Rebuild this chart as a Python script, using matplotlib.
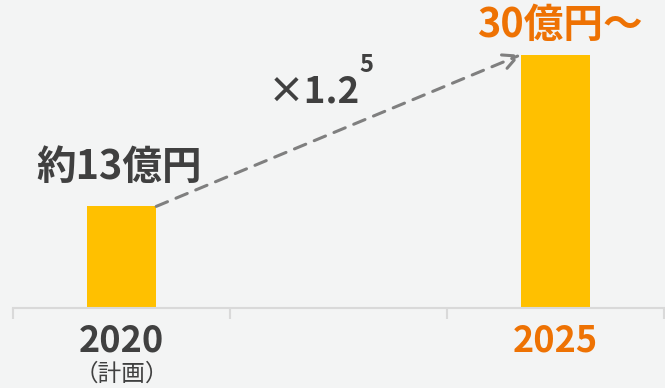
import matplotlib
matplotlib.use("Agg")
import matplotlib.pyplot as plt
from matplotlib.transforms import blended_transform_factory

plt.rcParams['font.family'] = ['Noto Sans CJK JP', 'DejaVu Sans']

# データ
categories = ['2020', '', '2025']
values = [12, None, 30]          # bar heights
value_labels = ['約13億円', '', '30億円～']
label_colors = ['#404040', '#404040', '#EE7203']
growth_text = '×1.2'
growth_exp = '5'

bg = '#F3F4F4'
bar_color = '#FFC000'
bar_w = 0.32

fig = plt.figure(figsize=(6.65, 3.88), dpi=100, facecolor=bg)
ax = fig.add_axes([13 / 665, (388 - 307.5) / 388, 651 / 665, 307.5 / 388])
ax.set_facecolor(bg)

xs = [i for i, v in enumerate(values) if v is not None]
hs = [v for v in values if v is not None]
ax.bar(xs, hs, width=bar_w, color=bar_color, zorder=2)

ax.set_xlim(-0.5, len(categories) - 0.5)
ax.set_ylim(0, 36.5)

# 軸
for s in ['top', 'right', 'left']:
    ax.spines[s].set_visible(False)
ax.spines['bottom'].set_color('#D9D9D9')
ax.spines['bottom'].set_linewidth(1.5)
ax.set_yticks([])
ax.set_xticks([i - 0.5 for i in range(len(categories) + 1)], minor=True)
ax.tick_params(axis='x', which='minor', length=8, width=1.5, color='#D9D9D9')
ax.set_xticks(range(len(categories)))
ax.set_xticklabels(categories, fontsize=26, fontweight='bold')
ax.tick_params(axis='x', which='major', length=0, pad=11)
for t, c in zip(ax.get_xticklabels(), label_colors):
    t.set_color(c)

trans = blended_transform_factory(ax.transData, ax.transAxes)
ax.text(0, -0.18, '（計画）', transform=trans, ha='center', va='top',
        fontsize=17, color='#404040')

# 値ラベル
ax.text(xs[0] - 0.01, hs[0] + 2.2, value_labels[0], ha='center', va='bottom',
        fontsize=28.5, fontweight='bold', color=label_colors[0])
ax.text(xs[1] + 0.02, hs[1] + 1.0, value_labels[2], ha='center', va='bottom',
        fontsize=28.5, fontweight='bold', color=label_colors[2])

# 成長矢印
ax.annotate('', xy=(xs[1] - bar_w / 2, hs[1]), xytext=(xs[0] + bar_w / 2, hs[0]),
            arrowprops=dict(arrowstyle='->', color='#7F7F7F', lw=2.2,
                            linestyle=(0, (4, 3)), mutation_scale=26,
                            shrinkA=0, shrinkB=0))
ax.text(0.887, 25.6, growth_text, ha='center', va='center',
        fontsize=26.5, fontweight='bold', color='#404040')
ax.text(1.13, 28.8, growth_exp, ha='center', va='center',
        fontsize=17, fontweight='bold', color='#404040')

fig.savefig('out.png', dpi=100, facecolor=bg)
